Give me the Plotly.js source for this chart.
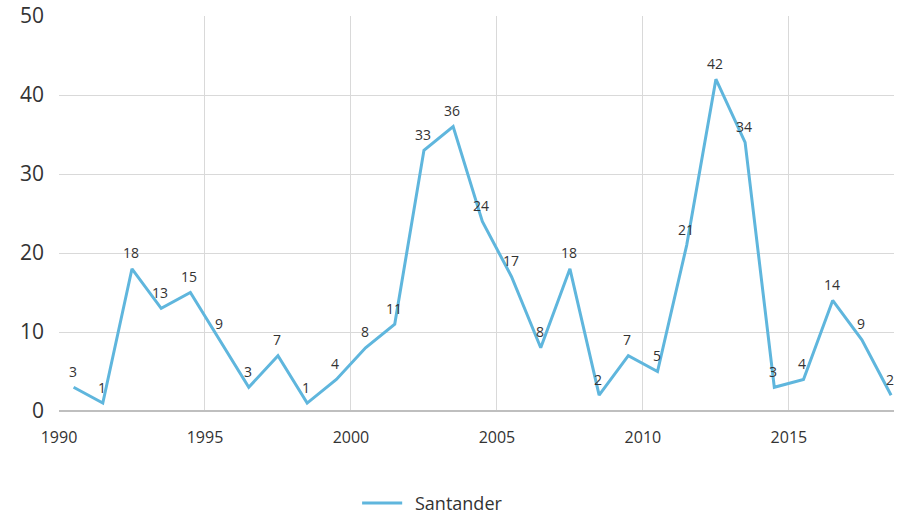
<!DOCTYPE html>
<html>
<head>
<meta charset="utf-8">
<script src="https://cdn.plot.ly/plotly-3.0.1.min.js"></script>
<style>html,body{margin:0;padding:0;background:#fff;}#chart{width:899px;height:515px;}</style>
</head>
<body>
<div id="chart"></div>
<script>
const years = [1990.5,1991.5,1992.5,1993.5,1994.5,1995.5,1996.5,1997.5,1998.5,1999.5,2000.5,2001.5,2002.5,2003.5,2004.5,2005.5,2006.5,2007.5,2008.5,2009.5,2010.5,2011.5,2012.5,2013.5,2014.5,2015.5,2016.5,2017.5,2018.5];
const santander = [3,1,18,13,15,9,3,7,1,4,8,11,33,36,24,17,8,18,2,7,5,21,42,34,3,4,14,9,2];
const xTicks = [1990,1995,2000,2005,2010,2015];
const yTicks = [0,10,20,30,40,50];
const seriesName = "Santander";
const lineColor = '#5fb6dd';

const labels = years.map((x, i) => ({
  x: x, y: santander[i], text: String(santander[i]), showarrow: false,
  yshift: 16, xshift: -1, font: {family: 'Open Sans', size: 14, color: '#333333'}
}));
// legend drawn in paper space (below the plot area)
labels.push({xref: 'paper', yref: 'paper', x: 0.424, y: -0.233, xanchor: 'left', yanchor: 'middle',
  text: seriesName, showarrow: false, font: {family: 'Open Sans', size: 18, color: '#333333'}});

Plotly.newPlot('chart', [{
  x: years, y: santander, type: 'scatter', mode: 'lines',
  name: seriesName,
  line: {color: lineColor, width: 3}
}], {
  width: 899, height: 515,
  margin: {l: 59, r: 5, t: 16, b: 104},
  paper_bgcolor: '#fff', plot_bgcolor: '#fff',
  font: {family: 'Open Sans', color: '#333333'},
  showlegend: false,
  annotations: labels,
  shapes: [{type: 'line', xref: 'paper', yref: 'paper', x0: 0.363, x1: 0.411, y0: -0.233, y1: -0.233,
            line: {color: lineColor, width: 3}}],
  xaxis: {range: [1990, 2018.6], tickvals: xTicks, ticktext: xTicks.map(String), showgrid: true, gridcolor: '#d9d9d9', gridwidth: 1,
          zeroline: false, showline: false, ticks: '', tickfont: {size: 16, color: '#333'}, ticklabelstandoff: 15},
  yaxis: {range: [0, 50], tickvals: yTicks, showgrid: true, gridcolor: '#d9d9d9', gridwidth: 1,
          zeroline: true, zerolinecolor: '#bfbfbf', zerolinewidth: 2, showline: false, ticks: '', tickfont: {size: 21, color: '#333'}, ticklabelstandoff: 14}
}, {displayModeBar: false});
</script>
</body>
</html>
